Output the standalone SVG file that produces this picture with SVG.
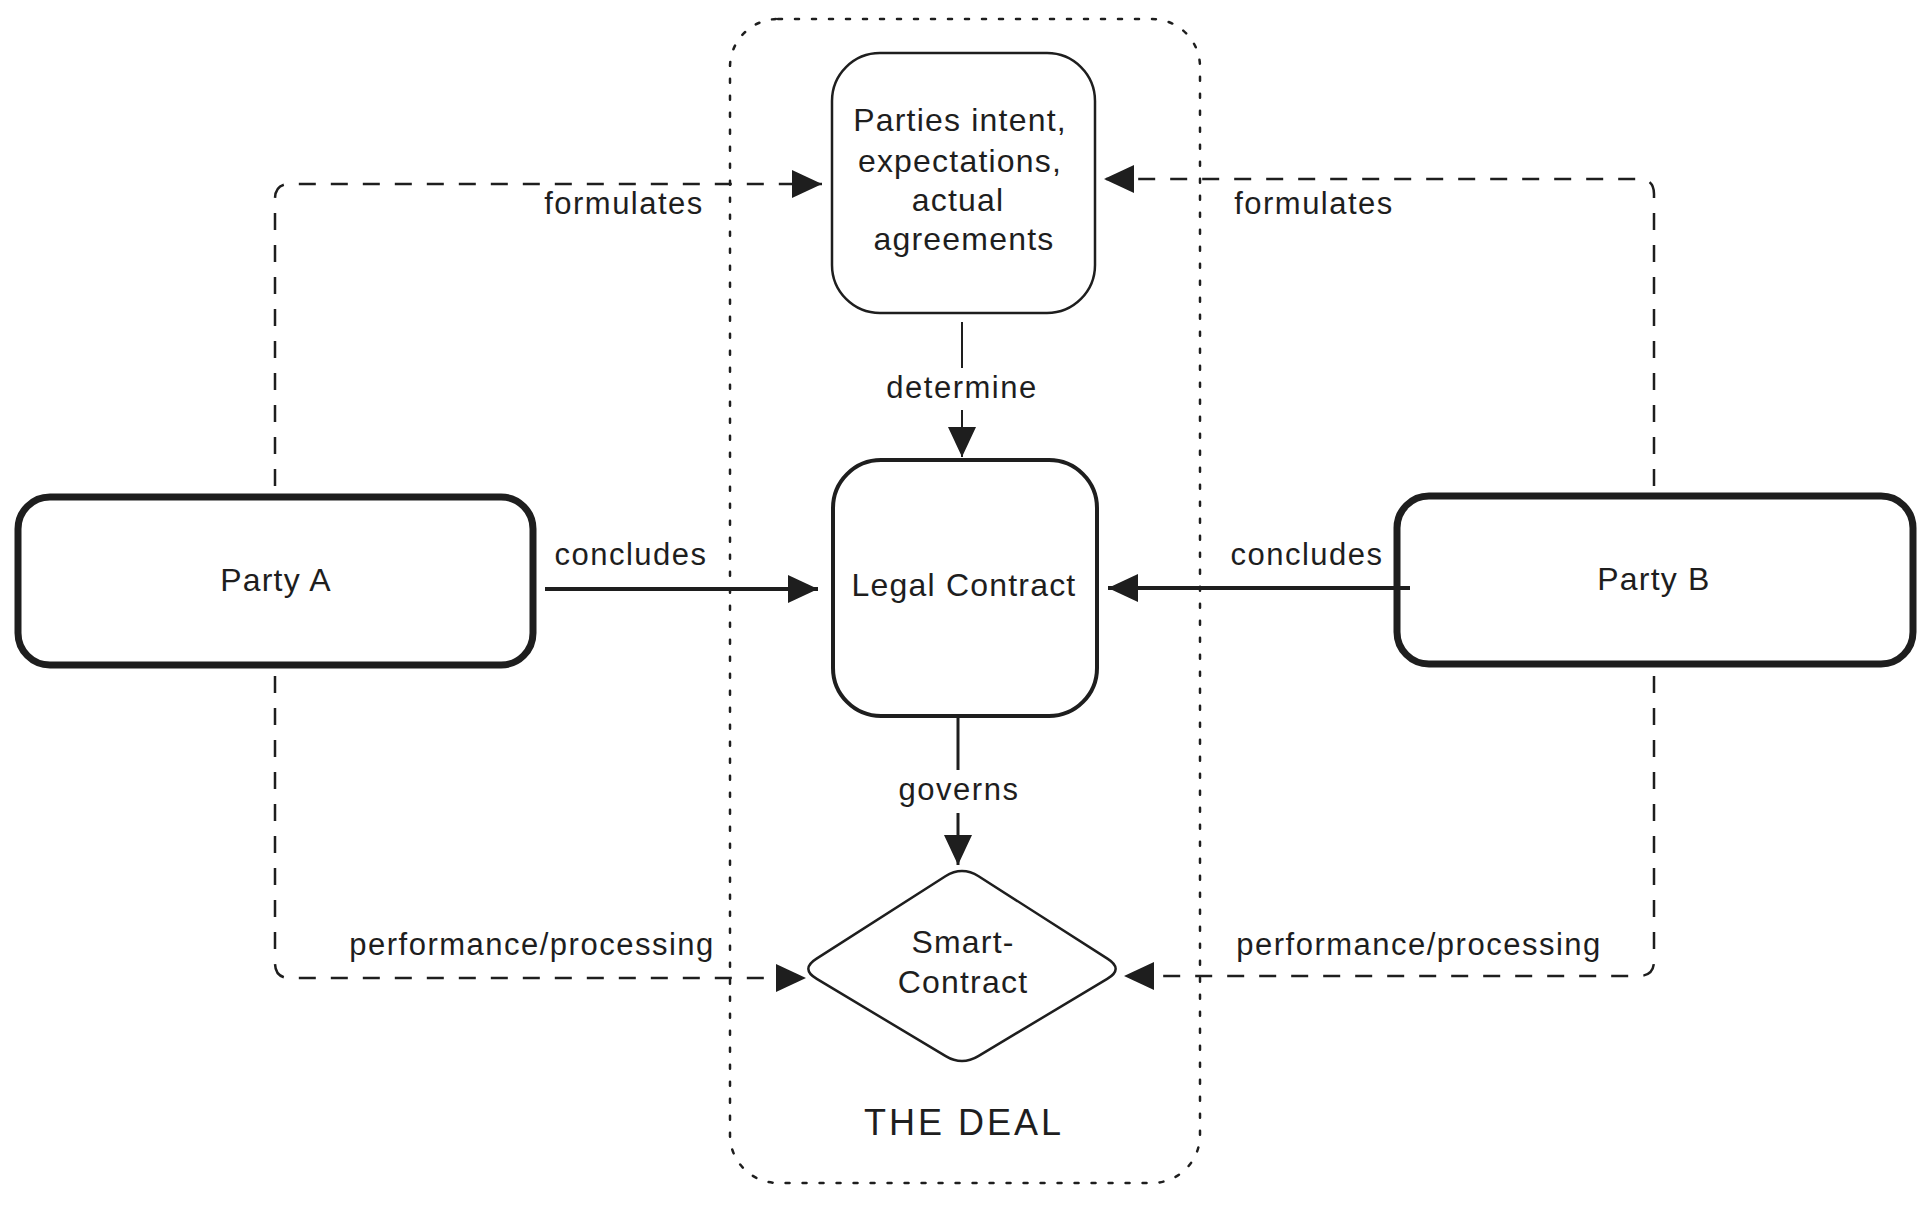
<svg xmlns="http://www.w3.org/2000/svg" width="1930" height="1205" viewBox="0 0 1930 1205">
  <style>
    .bg { fill: #ffffff; }
    .node { fill: #ffffff; stroke: #1e1e1e; }
    .txt { font-family: "Liberation Sans", Arial, sans-serif; font-size: 32px; fill: #1e1e1e; text-anchor: middle; letter-spacing: 1.2px; }
    .lbl { font-family: "Liberation Sans", Arial, sans-serif; font-size: 31px; fill: #1e1e1e; text-anchor: middle; letter-spacing: 1.5px; }
    .title { font-family: "Liberation Sans", Arial, sans-serif; font-size: 36px; fill: #1e1e1e; text-anchor: middle; letter-spacing: 3px; }
    .dash { fill: none; stroke: #1e1e1e; stroke-width: 2.5; stroke-dasharray: 17 15; }
    .solid { fill: none; stroke: #1e1e1e; }
    .container { fill: none; stroke: #1e1e1e; stroke-width: 2.5; stroke-dasharray: 4 13; stroke-linecap: round; }
  </style>
  <defs>
    <marker id="arrow" viewBox="0 0 30 28" refX="30" refY="14" markerWidth="30" markerHeight="28" markerUnits="userSpaceOnUse" orient="auto">
      <path d="M0,0 L30,14 L0,28 Z" fill="#1e1e1e" stroke="none"/>
    </marker>
  </defs>
  <rect class="bg" x="0" y="0" width="1930" height="1205"/>

  <g id="the-deal">
    <rect class="container" x="730" y="19" width="470" height="1164" rx="48" ry="48"/>
    <text class="title" x="964" y="1135">THE DEAL</text>
  </g>

  <g id="parties-intent">
    <rect class="node" stroke-width="2.5" x="832" y="53" width="263" height="260" rx="48" ry="48"/>
    <text class="txt" x="960" y="131">Parties intent,</text>
    <text class="txt" x="960" y="172">expectations,</text>
    <text class="txt" x="958" y="211">actual</text>
    <text class="txt" x="964" y="250">agreements</text>
  </g>

  <g id="legal-contract">
    <rect class="node" stroke-width="4" x="833" y="460" width="264" height="256" rx="48" ry="48"/>
    <text class="txt" x="964" y="596">Legal Contract</text>
  </g>

  <g id="smart-contract">
    <path class="node" stroke-width="2.5" d="M978.6,876.2 L1107.4,958.6 Q1124,969 1107.2,978.9 L978.3,1056.1 Q962,1066 945.7,1056.1 L816.8,978.9 Q800,969 816.6,958.6 L945.4,876.2 Q962,866 978.6,876.2 Z"/>
    <text class="txt" x="963" y="953">Smart-</text>
    <text class="txt" x="963" y="993">Contract</text>
  </g>

  <g id="party-a">
    <rect class="node" stroke-width="7" x="18" y="497" width="515" height="168" rx="32" ry="32"/>
    <text class="txt" x="276" y="591">Party A</text>
  </g>

  <g id="party-b">
    <rect class="node" stroke-width="7" x="1397" y="496" width="516" height="168" rx="32" ry="32"/>
    <text class="txt" x="1654" y="590">Party B</text>
  </g>

  <g id="connectors">
    <!-- Party A formulates -->
    <path class="dash" d="M275,486 V199 Q275,184 290,184 H822" marker-end="url(#arrow)"/>
    <text class="lbl" x="624" y="214">formulates</text>
    <!-- Party B formulates -->
    <path class="dash" d="M1654,486 V194 Q1654,179 1639,179 H1104" marker-end="url(#arrow)"/>
    <text class="lbl" x="1314" y="214">formulates</text>
    <!-- Party A concludes -->
    <path class="solid" stroke-width="4" d="M545,589 H818" marker-end="url(#arrow)"/>
    <text class="lbl" x="631" y="565">concludes</text>
    <!-- Party B concludes -->
    <path class="solid" stroke-width="4" d="M1410,588 H1108" marker-end="url(#arrow)"/>
    <text class="lbl" x="1307" y="565">concludes</text>
    <!-- determine -->
    <path class="solid" stroke-width="2" d="M962,322 V368"/>
    <path class="solid" stroke-width="2" d="M962,410 V457" marker-end="url(#arrow)"/>
    <text class="lbl" x="962" y="398">determine</text>
    <!-- governs -->
    <path class="solid" stroke-width="3" d="M958,717 V770"/>
    <path class="solid" stroke-width="3" d="M958,813 V865" marker-end="url(#arrow)"/>
    <text class="lbl" x="959" y="800">governs</text>
    <!-- Party A performance -->
    <path class="dash" d="M275,676 V963 Q275,978 290,978 H806" marker-end="url(#arrow)"/>
    <text class="lbl" x="532" y="955">performance/processing</text>
    <!-- Party B performance -->
    <path class="dash" d="M1654,676 V961 Q1654,976 1639,976 H1124" marker-end="url(#arrow)"/>
    <text class="lbl" x="1419" y="955">performance/processing</text>
  </g>
</svg>
